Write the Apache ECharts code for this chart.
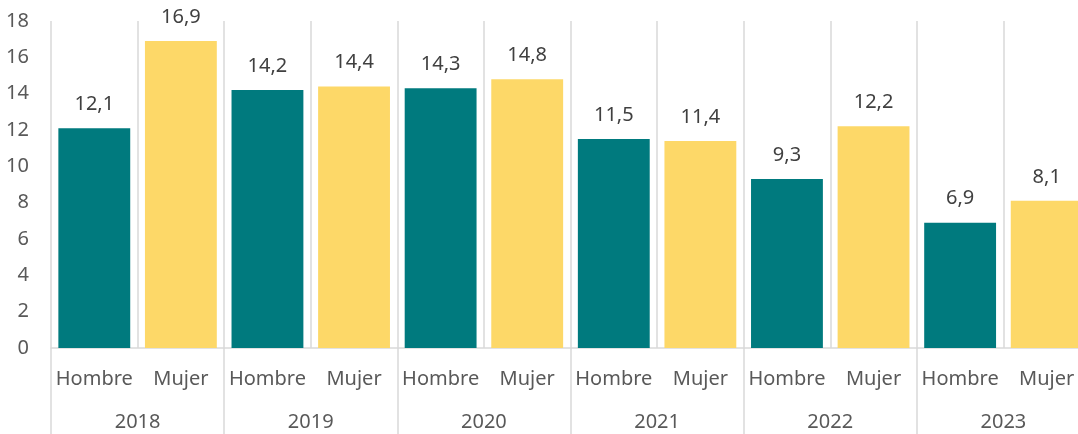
<!DOCTYPE html>
<html>
<head>
<meta charset="utf-8">
<script src="https://cdn.jsdelivr.net/npm/echarts@6/dist/echarts.min.js"></script>
<style>
  html, body { margin: 0; padding: 0; overflow: hidden; background: #fff; }
  #chart { width: 1090px; height: 434px; }
</style>
</head>
<body>
<div id="chart"></div>
<script>
// datos
const years = ["2018", "2019", "2020", "2021", "2022", "2023"];
const sexes = ["Hombre", "Mujer"];
const hombre = [12.1, 14.2, 14.3, 11.5, 9.3, 6.9];
const mujer = [16.9, 14.4, 14.8, 11.4, 12.2, 8.1];
const yTicks = [0, 2, 4, 6, 8, 10, 12, 14, 16, 18];

const teal = "#007A7E";
const gold = "#FDD868";
const gridColor = "#D9D9D9";
const textColor = "#595959";
const font = "'Noto Sans', sans-serif";

// categorias: Hombre/Mujer por cada año
const cats = [];
const hData = [];
const mData = [];
years.forEach((y, i) => {
  cats.push(sexes[0], sexes[1]);
  hData.push(hombre[i], null);
  mData.push(null, mujer[i]);
});

const fmt = (p) => p.value == null ? "" : p.value.toFixed(1).replace(".", ",");

const chart = echarts.init(document.getElementById("chart"));

const barLabel = {
  show: true,
  position: "top",
  distance: 14,
  color: "#404040",
  fontSize: 20,
  fontFamily: font,
  formatter: fmt,
};

chart.setOption({
  animation: false,
  grid: { left: 51, right: 0, top: 21, bottom: 86 },
  xAxis: [
    {
      type: "category",
      data: cats,
      axisLine: { lineStyle: { color: gridColor, width: 1.5 } },
      axisTick: { show: false },
      splitLine: { show: true, lineStyle: { color: gridColor, width: 1.5 } },
      axisLabel: { color: textColor, fontSize: 20, fontFamily: font, margin: 21, interval: 0 },
    },
    {
      type: "category",
      data: years,
      position: "bottom",
      axisLine: { show: false },
      axisTick: { show: true, length: 86, lineStyle: { color: gridColor, width: 1.5 } },
      axisLabel: { color: textColor, fontSize: 20, fontFamily: font, margin: 64, interval: 0 },
    },
  ],
  yAxis: {
    type: "value",
    min: yTicks[0],
    max: yTicks[yTicks.length - 1],
    interval: 2,
    axisLine: { show: false },
    axisTick: { show: false },
    splitLine: { show: false },
    axisLabel: { color: textColor, fontSize: 20, fontFamily: font, margin: 22 },
  },
  series: [
    {
      name: "Hombre",
      type: "bar",
      data: hData,
      barWidth: "83%",
      barGap: "-100%",
      itemStyle: { color: teal },
      label: barLabel,
    },
    {
      name: "Mujer",
      type: "bar",
      data: mData,
      barWidth: "83%",
      barGap: "-100%",
      itemStyle: { color: gold },
      label: barLabel,
    },
  ],
});
</script>
</body>
</html>
